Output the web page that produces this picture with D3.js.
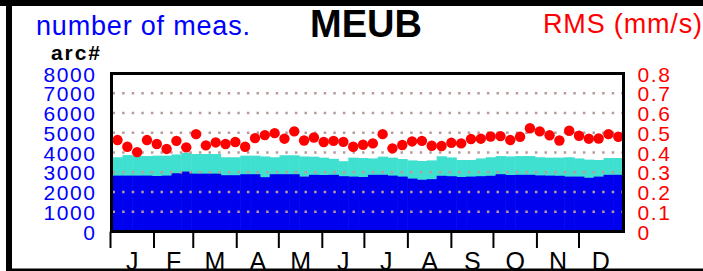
<!DOCTYPE html>
<html>
<head>
<meta charset="utf-8">
<script src="https://cdn.jsdelivr.net/npm/d3@7"></script>
<style>
  body { margin: 0; background: #fff; }
  svg { display: block; font-family: "Liberation Sans", Arial, sans-serif; }
</style>
</head>
<body>
<svg id="chart"></svg>
<script>
// weekly values
var totalMeas = [3760,3870,3820,3820,3840,3840,3900,3990,3925,3925,3925,3760,3760,3840,3840,3800,3760,3860,3860,3800,
  3790,3740,3680,3560,3740,3720,3700,3790,3740,3670,3600,3570,3600,3810,3750,3620,3620,3700,3760,3820,
  3800,3820,3820,3760,3740,3740,3760,3700,3640,3620,3720,3720];
var arcMeas = [2830,2830,2830,2830,2810,2830,2950,3035,2930,2930,2930,2850,2850,2900,2900,2750,2900,2900,2900,2780,
  2870,2860,2870,2800,2780,2760,2870,2870,2830,2780,2680,2620,2650,2820,2800,2760,2780,2800,2820,2900,
  2860,2870,2870,2840,2830,2820,2780,2780,2720,2780,2870,2870];
var rmsValues = [0.463,0.429,0.402,0.463,0.443,0.418,0.459,0.426,0.493,0.436,0.451,0.443,0.453,0.429,0.473,0.488,0.498,0.470,0.507,0.461,
  0.476,0.453,0.459,0.454,0.429,0.439,0.446,0.493,0.421,0.438,0.456,0.459,0.434,0.433,0.449,0.446,0.468,0.470,0.481,0.483,
  0.463,0.480,0.523,0.507,0.487,0.461,0.510,0.485,0.470,0.471,0.493,0.480];
var monthLabels = ["J","F","M","A","M","J","J","A","S","O","N","D"];
var countTicks = [0,1000,2000,3000,4000,5000,6000,7000,8000];
var rmsTicks = [0,0.1,0.2,0.3,0.4,0.5,0.6,0.7,0.8];

var W = 703, H = 271;
var pL = 110.5, pR = 622.5, pT = 73.5, pB = 231.5;

var svg = d3.select("#chart").attr("width", W).attr("height", H);

var yearStart = new Date(2015, 0, 1), yearEnd = new Date(2016, 0, 1);
var x = d3.scaleTime().domain([yearStart, yearEnd]).range([pL, pR]);
var y = d3.scaleLinear().domain([0, 8000]).range([pB, pT]);
var yR = d3.scaleLinear().domain([0, 0.8]).range([pB, pT]);

function weekStart(i) { return d3.timeHour.offset(yearStart, (7 * i + 1.5) * 24); }
function weekEnd(i) { return d3.timeHour.offset(yearStart, (7 * i + 8.5) * 24); }
function weekMid(i) { return d3.timeHour.offset(yearStart, (7 * i + 5) * 24); }

svg.append("clipPath").attr("id", "plotclip")
  .append("rect").attr("x", pL).attr("y", pT).attr("width", pR - pL).attr("height", pB - pT);

var plot = svg.append("g").attr("clip-path", "url(#plotclip)");

// bars: total first, arc-count on top
function barX(d, i) { return i == 0 ? pL : x(weekStart(i)); }
function barW(d, i) { return (i == totalMeas.length - 1 ? pR : x(weekEnd(i))) - barX(d, i) + 0.5; }

plot.selectAll("rect.tot").data(totalMeas).enter().append("rect")
  .attr("class", "tot")
  .attr("x", barX).attr("width", barW)
  .attr("y", d => y(d)).attr("height", d => pB - y(d) + 2)
  .attr("fill", "#40e0d0");

plot.selectAll("rect.arc").data(arcMeas).enter().append("rect")
  .attr("class", "arc")
  .attr("x", barX).attr("width", barW)
  .attr("y", d => y(d)).attr("height", d => pB - y(d) + 2)
  .attr("fill", "#0000ee");

// dotted grid
plot.selectAll("line.grid").data(countTicks.slice(1, 8)).enter().append("line")
  .attr("class", "grid")
  .attr("x1", pL + 2).attr("x2", pR)
  .attr("y1", d => y(d)).attr("y2", d => y(d))
  .attr("stroke", "#b89a9a").attr("stroke-width", 2.5)
  .attr("stroke-dasharray", "2.5,7.1");

// rms points
plot.selectAll("circle").data(rmsValues).enter().append("circle")
  .attr("cx", (d, i) => x(weekMid(i)))
  .attr("cy", d => yR(d))
  .attr("r", 5.2)
  .attr("fill", "#ff0000");

// frame
svg.append("rect")
  .attr("x", pL + 1).attr("y", pT).attr("width", pR - pL).attr("height", pB - pT)
  .attr("fill", "none").attr("stroke", "#000").attr("stroke-width", 3);

// month ticks
var months = d3.timeMonth.range(yearStart, yearEnd);
svg.selectAll("line.mtick").data(months).enter().append("line")
  .attr("class", "mtick")
  .attr("x1", d => x(d)).attr("x2", d => x(d))
  .attr("y1", pB).attr("y2", 248)
  .attr("stroke", "#000").attr("stroke-width", 2);

svg.selectAll("text.mlab").data(months).enter().append("text")
  .attr("class", "mlab")
  .attr("x", d => (x(d) + x(d3.timeMonth.offset(d, 1))) / 2)
  .attr("y", 270)
  .attr("text-anchor", "middle")
  .attr("font-size", 25)
  .text((d, i) => monthLabels[i]);

// left axis labels
svg.selectAll("text.ylab").data(countTicks).enter().append("text")
  .attr("class", "ylab")
  .attr("x", 96.5).attr("y", d => y(d) + 8)
  .attr("text-anchor", "end")
  .attr("font-size", 21).attr("letter-spacing", 1.6)
  .attr("fill", "#0000ff")
  .text(d => d);

// right axis labels
svg.selectAll("text.rlab").data(rmsTicks).enter().append("text")
  .attr("class", "rlab")
  .attr("x", 637.5).attr("y", d => yR(d) + 8)
  .attr("font-size", 21).attr("letter-spacing", 1.6)
  .attr("fill", "#ff0000")
  .text(d => d == 0 ? "0" : d3.format(".1f")(d));

// titles
svg.append("text").attr("x", 36).attr("y", 35)
  .attr("font-size", 27).attr("fill", "#0000ff")
  .attr("textLength", 214).attr("lengthAdjust", "spacing")
  .text("number of meas.");
svg.append("text").attr("x", 310).attr("y", 37)
  .attr("font-size", 38).attr("font-weight", "bold")
  .text("MEUB");
svg.append("text").attr("x", 543).attr("y", 33)
  .attr("font-size", 27).attr("fill", "#ff0000")
  .attr("textLength", 159).attr("lengthAdjust", "spacing")
  .text("RMS (mm/s)");
svg.append("text").attr("x", 51).attr("y", 60)
  .attr("font-size", 21).attr("font-weight", "bold")
  .attr("textLength", 49).attr("lengthAdjust", "spacing")
  .text("arc#");

// outer panel border
svg.append("rect").attr("x", 0).attr("y", 0).attr("width", W).attr("height", 6).attr("fill", "#000");
svg.append("rect").attr("x", 6).attr("y", 0).attr("width", 6).attr("height", H).attr("fill", "#000");
svg.append("rect").attr("x", 6).attr("y", 268.5).attr("width", W).attr("height", 3).attr("fill", "#000");
</script>
</body>
</html>
